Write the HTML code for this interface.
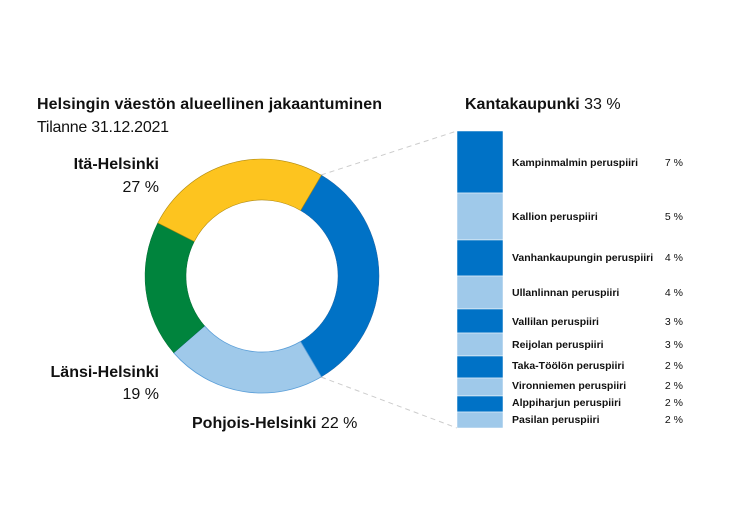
<!DOCTYPE html>
<html><head><meta charset="utf-8"><style>body{margin:0;background:#fff}svg{display:block;font-family:"Liberation Sans",sans-serif}</style></head>
<body>
<svg width="735" height="525" viewBox="0 0 735 525">
<text x="37" y="109" font-size="16" font-weight="bold" textLength="345" fill="#111">Helsingin väestön alueellinen jakaantuminen</text>
<text x="37" y="132" font-size="16" fill="#111" textLength="132">Tilanne 31.12.2021</text>
<text x="159" y="169" font-size="16" font-weight="bold" text-anchor="end" fill="#111">Itä-Helsinki</text>
<text x="159" y="192" font-size="16" text-anchor="end" fill="#111">27 %</text>
<text x="159" y="377" font-size="16" font-weight="bold" text-anchor="end" fill="#111">Länsi-Helsinki</text>
<text x="159" y="399" font-size="16" text-anchor="end" fill="#111">19 %</text>
<text x="192" y="428" font-size="16" fill="#111"><tspan font-weight="bold">Pohjois-Helsinki</tspan> 22 %</text>
<text x="465" y="109" font-size="16" fill="#111"><tspan font-weight="bold">Kantakaupunki</tspan> 33 %</text>

<line x1="321" y1="175" x2="457" y2="131" stroke="#ccc" stroke-dasharray="5,4"/>
<line x1="321" y1="377" x2="457" y2="428" stroke="#ccc" stroke-dasharray="5,4"/>

<path d="M321.4,175.2 A117,117 0 0 1 321.4,376.8 L300.6,341.5 A76,76 0 0 0 300.6,210.5Z" fill="#0072c6" stroke="#1a5fa0" stroke-width="0.5"/>
<path d="M321.4,376.8 A117,117 0 0 1 173.7,352.8 L204.6,325.9 A76,76 0 0 0 300.6,341.5Z" fill="#9fc9ea" stroke="#5a9ed8" stroke-width="0.8"/>
<path d="M173.7,352.8 A117,117 0 0 1 157.8,222.9 L194.3,241.5 A76,76 0 0 0 204.6,325.9Z" fill="#00843d" stroke="#006b30" stroke-width="0.5"/>
<path d="M157.8,222.9 A117,117 0 0 1 321.4,175.2 L300.6,210.5 A76,76 0 0 0 194.3,241.5Z" fill="#fdc41f" stroke="#b08a10" stroke-width="0.6"/>

<g stroke="#fff" stroke-width="0.5">
<rect x="457" y="131" width="46" height="62" fill="#0072c6"/>
<rect x="457" y="193" width="46" height="47" fill="#9fc9ea"/>
<rect x="457" y="240" width="46" height="36" fill="#0072c6"/>
<rect x="457" y="276" width="46" height="33" fill="#9fc9ea"/>
<rect x="457" y="309" width="46" height="24" fill="#0072c6"/>
<rect x="457" y="333" width="46" height="23" fill="#9fc9ea"/>
<rect x="457" y="356" width="46" height="22" fill="#0072c6"/>
<rect x="457" y="378" width="46" height="18" fill="#9fc9ea"/>
<rect x="457" y="396" width="46" height="16" fill="#0072c6"/>
<rect x="457" y="412" width="46" height="16" fill="#9fc9ea"/>
</g>
<g font-size="10.5" fill="#111">
<g font-weight="bold">
<text x="512" y="166">Kampinmalmin peruspiiri</text>
<text x="512" y="220">Kallion peruspiiri</text>
<text x="512" y="261">Vanhankaupungin peruspiiri</text>
<text x="512" y="296">Ullanlinnan peruspiiri</text>
<text x="512" y="325">Vallilan peruspiiri</text>
<text x="512" y="348">Reijolan peruspiiri</text>
<text x="512" y="369">Taka-Töölön peruspiiri</text>
<text x="512" y="389">Vironniemen peruspiiri</text>
<text x="512" y="406">Alppiharjun peruspiiri</text>
<text x="512" y="423">Pasilan peruspiiri</text>
</g>
<g text-anchor="end">
<text x="683" y="166">7 %</text>
<text x="683" y="220">5 %</text>
<text x="683" y="261">4 %</text>
<text x="683" y="296">4 %</text>
<text x="683" y="325">3 %</text>
<text x="683" y="348">3 %</text>
<text x="683" y="369">2 %</text>
<text x="683" y="389">2 %</text>
<text x="683" y="406">2 %</text>
<text x="683" y="423">2 %</text>
</g>
</g>
</svg>
</body></html>
